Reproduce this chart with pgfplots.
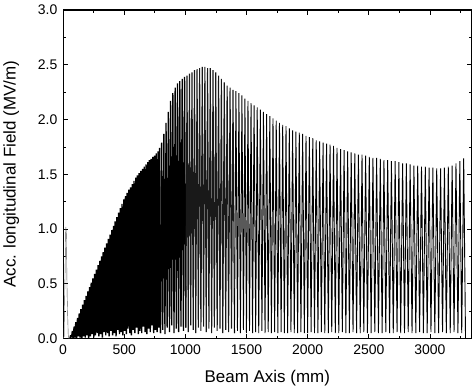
\documentclass[border=0pt]{standalone}
\usepackage{pgfplots}
\pgfplotsset{compat=1.18}
\usepackage{fontspec}
\setmainfont{Liberation Sans}
\pgfplotstableread{
x y
0 0.00
8 0.02
16 0.60
22 1.02
27 0.95
33 0.40
42 0.03
48 0.00
55 0.00
}\spike
\pgfplotstableread{
x y
55 0.00
62 0.03
69 0.01
76 0.07
83 0.00
90 0.11
97 0.01
104 0.15
111 0.00
118 0.19
125 0.02
132 0.23
139 0.01
146 0.27
153 0.00
160 0.31
167 0.02
174 0.35
181 0.01
188 0.39
195 0.03
202 0.43
209 0.00
216 0.47
223 0.02
230 0.51
237 0.04
244 0.55
251 0.01
258 0.59
265 0.03
272 0.63
279 0.05
286 0.67
293 0.02
300 0.71
307 0.04
314 0.75
321 0.01
328 0.79
335 0.06
342 0.83
349 0.03
356 0.87
363 0.05
370 0.91
377 0.02
384 0.95
391 0.07
398 0.99
405 0.03
412 1.03
419 0.05
426 1.07
433 0.02
440 1.11
447 0.08
454 1.15
461 0.04
468 1.19
475 0.06
482 1.23
489 0.03
496 1.27
503 0.07
510 1.30
517 0.04
524 1.33
531 0.09
538 1.36
545 0.05
552 1.38
559 0.03
566 1.41
573 0.08
580 1.44
587 0.05
594 1.47
601 0.10
608 1.49
615 0.04
622 1.51
629 0.07
636 1.53
643 0.05
650 1.55
657 0.11
664 1.57
671 0.06
678 1.59
685 0.04
692 1.61
699 0.09
706 1.63
713 0.06
720 1.64
727 0.12
734 1.66
741 0.05
748 1.67
755 0.08
762 1.69
769 0.06
776 1.71
783 0.10
790 1.74
797 0.05
}\regionA
\pgfplotstableread{
x y
797 0.05
806 1.79
815 0.08
824 1.87
833 0.04
842 1.97
851 0.10
860.5 2.07
870 0.06
879 2.17
888 0.12
897.5 2.24
907 0.05
916.5 2.29
926 0.09
935.5 2.33
945 0.06
954.5 2.35
964 0.11
974 2.37
984 0.07
993.5 2.39
1003.5 0.10
}\regionBa
\pgfplotstableread{
x y
1003.5 0.10
1013.5 2.40
1023.5 0.06
1033.5 2.42
1044 0.12
1054 2.43
1064 0.08
1074.5 2.45
1085 0.05
1095.5 2.46
1106 0.10
1116.5 2.47
1127 0.07
1138 2.48
1149 0.11
1159.5 2.48
1170.5 0.06
1181.5 2.47
1192.5 0.09
1203.5 2.47
1215 0.05
1226 2.45
1237 0.10
1248.5 2.43
1260 0.07
1271.5 2.40
1283 0.09
1294.5 2.37
1306 0.05
1318 2.34
1330 0.08
1341.5 2.31
1353.5 0.06
1365.5 2.29
1377.5 0.09
1389.5 2.27
1401.5 0.05
}\regionBb
\pgfplotstableread{
x y
1401.5 0.05
1413.5 2.26
1426 0.07
1438 2.24
1450 0.05
1462.5 2.22
1475 0.08
1487 2.19
1499.5 0.05
1512 2.17
1524.5 0.07
1537 2.15
1549.5 0.05
1562 2.13
1575 0.06
1587.5 2.11
1600 0.05
1613 2.09
1626 0.07
1638.5 2.07
1651.5 0.05
1664.5 2.05
1677.5 0.06
1690.5 2.03
1703.5 0.05
1716.5 2.01
1730 0.06
1743 1.99
1756 0.05
1769.5 1.97
1783 0.06
1796 1.95
1809.5 0.05
1823 1.94
1836.5 0.05
1850 1.92
1863.5 0.06
1877 1.90
1890.5 0.05
1904 1.89
1918 0.05
1931.5 1.88
1945 0.06
1959 1.87
1973 0.05
1986.5 1.85
2000 0.05
2014 1.84
2028 0.06
2042 1.83
2056 0.05
2070 1.81
2084 0.05
2098 1.80
2112 0.06
2126 1.79
2140 0.05
2154.5 1.78
2169 0.05
2183 1.77
2197 0.06
2211.5 1.76
2226 0.05
2240 1.74
2254.5 0.05
2269 1.73
2283.5 0.06
2298 1.72
2312.5 0.05
2327 1.71
2341.5 0.05
2356 1.70
2371 0.06
2385.5 1.69
2400 0.05
2415 1.68
2430 0.05
2444.5 1.68
2459 0.06
2474 1.67
2489 0.05
2504 1.66
2519 0.05
2534 1.65
2549 0.06
2564 1.65
2579 0.05
2594 1.64
2609 0.05
2624 1.63
2639 0.06
2654.5 1.63
2670 0.05
2685 1.62
2700 0.05
2715.5 1.62
2731 0.06
2746 1.61
2761 0.05
2776.5 1.60
2792 0.05
2807 1.60
2822.5 0.06
2838 1.59
2853.5 0.05
2869 1.58
2884.5 0.05
2900 1.58
2915.5 0.06
2931 1.57
2946.5 0.05
2962 1.57
2977.5 0.05
2993 1.56
3008.5 0.06
3024 1.56
3040 0.05
3055.5 1.555
3071 0.05
3087 1.555
3103 0.06
3118.5 1.56
3134 0.05
3150 1.57
3166 0.05
3181.5 1.58
3197 0.06
3213 1.60
3229 0.05
3244.5 1.62
3260 0.05
3276 1.645
3291 0.00
}\regionBc
\begin{document}
\begin{tikzpicture}
\begin{axis}[
  name=ax,
  scale only axis, width=409.5pt, height=329.5pt,
  xmin=0, xmax=3340, ymin=0, ymax=3.0,
  xtick={0,500,1000,1500,2000,2500,3000},
  minor xtick={250,750,1250,1750,2250,2750,3250},
  ytick={0,0.5,1.0,1.5,2.0,2.5,3.0},
  minor ytick={0.25,0.75,1.25,1.75,2.25,2.75},
  tick align=inside, major tick length=5pt, minor tick length=3pt,
  tick style={black, line width=0.8pt},
  axis line style={line width=1.1pt},
  /pgf/number format/assume math mode=true,
  /pgf/number format/set thousands separator={},
  tick label style={font=\fontsize{14}{16}\selectfont},
  xticklabel style={yshift=-3pt},
  yticklabel style={xshift=-2.3pt, /pgf/number format/fixed, /pgf/number format/fixed zerofill, /pgf/number format/precision=1},
  xlabel={Beam Axis (mm)},
  ylabel={Acc. longitudinal Field (MV/m)},
  every axis x label/.style={at={(axis description cs:0.5,-0.135)}, anchor=base, font=\fontsize{17}{20}\selectfont},
  every axis y label/.style={at={(axis description cs:-0.127,0.5)}, anchor=center, rotate=90, font=\fontsize{17}{20}\selectfont},
]
\addplot[gray!70!black, line width=0.4pt, line join=bevel] table {\spike};
\addplot[black, line width=1.4pt, line join=bevel] table {\regionA};
\addplot[black, line width=1.3pt, line join=bevel] table {\regionBa};
\addplot[black!90, line width=1.1pt, line join=bevel] table {\regionBb};
\addplot[black, line width=0.9pt, line join=bevel] table {\regionBc};
\end{axis}
\path ([xshift=-62pt,yshift=-49.5pt]ax.south west) rectangle ([xshift=2.5pt,yshift=10pt]ax.north east);
\end{tikzpicture}
\end{document}
